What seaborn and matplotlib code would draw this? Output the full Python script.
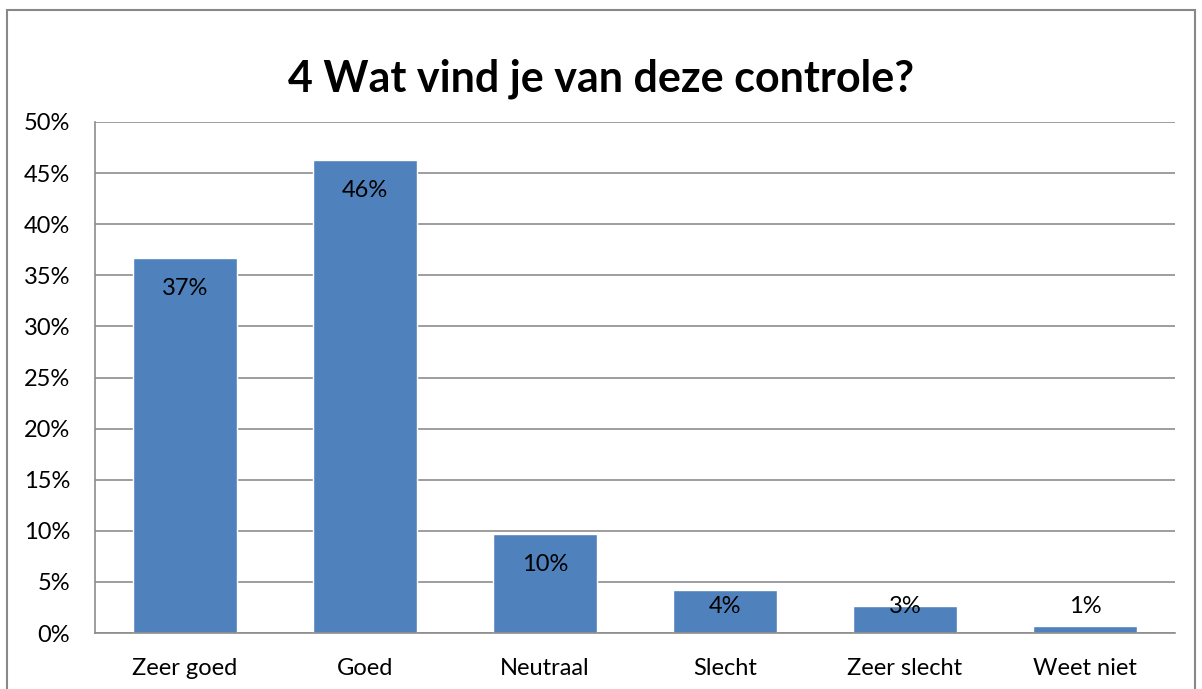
import matplotlib
matplotlib.use("Agg")
import matplotlib.pyplot as plt
import seaborn as sns
import pandas as pd
from matplotlib.patches import Rectangle

# Data
categories = ["Zeer goed", "Goed", "Neutraal", "Slecht", "Zeer slecht", "Weet niet"]
values = [36.7, 46.3, 9.7, 4.2, 2.6, 0.7]
labels = ["37%", "46%", "10%", "4%", "3%", "1%"]
y_ticks = [0, 5, 10, 15, 20, 25, 30, 35, 40, 45, 50]

df = pd.DataFrame({"category": categories, "value": values})

sns.set_style("white")
plt.rcParams['font.family'] = ['Lato', 'DejaVu Sans']

fig = plt.figure(figsize=(12.02, 6.89), dpi=100)
ax = fig.add_axes([95 / 1202, 56 / 689, 1080 / 1202, 511 / 689])

sns.barplot(data=df, x="category", y="value", color="#4F81BD",
            saturation=1, width=0.58, ax=ax)

ax.set_ylim(0, 50)
ax.set_xlim(-0.5, len(categories) - 0.5)
ax.set_yticks(y_ticks)
ax.set_yticklabels([f"{t}%" for t in y_ticks], fontsize=17)
ax.tick_params(axis="x", labelsize=17, length=0, pad=18, labelcolor="black")
ax.tick_params(axis="y", length=0, pad=18, labelcolor="black")
ax.set_xlabel("")
ax.set_ylabel("")
ax.yaxis.grid(True, color="#8c8c8c", linewidth=1.2)
ax.set_axisbelow(True)

for s in ["top", "right"]:
    ax.spines[s].set_visible(False)
for s in ["left", "bottom"]:
    ax.spines[s].set_color("#8c8c8c")
    ax.spines[s].set_linewidth(1.2)

# data labels inside the bars near the top
for i, (v, lab) in enumerate(zip(values, labels)):
    ax.text(i, max(v - 3.0, 2.64), lab, ha="center", va="center",
            fontsize=17, color="black")

fig.suptitle("4 Wat vind je van deze controle?", fontsize=31,
             fontweight="bold", color="black", y=0.915)

# outer chart border
fig.patches.append(Rectangle((7 / 1202, -0.01), 1188 / 1202, 1.01 - 10 / 689,
                             transform=fig.transFigure, fill=False,
                             edgecolor="#888888", linewidth=1.5))

fig.savefig("out.png", dpi=100)
